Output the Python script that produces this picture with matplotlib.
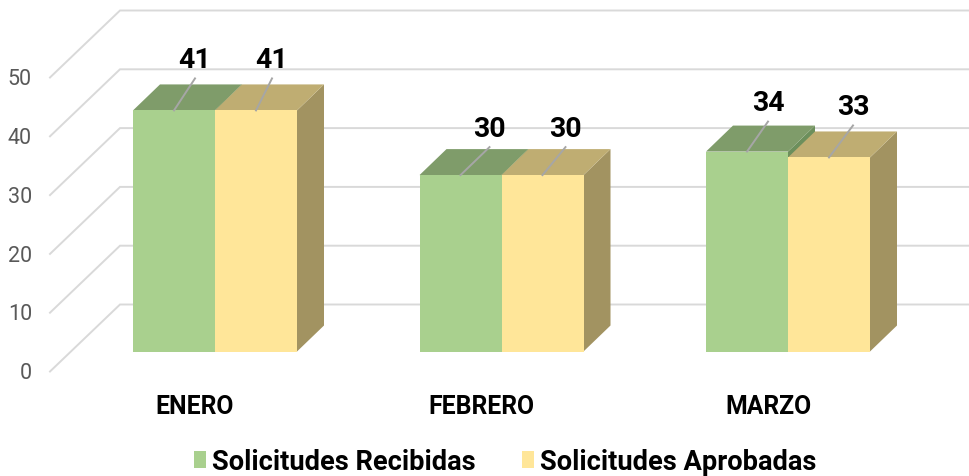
import matplotlib
matplotlib.use("Agg")
import matplotlib.pyplot as plt
from matplotlib.patches import Patch, Polygon

# Data
months = ["ENERO", "FEBRERO", "MARZO"]
recibidas = [41, 30, 34]
aprobadas = [41, 30, 33]
series_names = ["Solicitudes Recibidas", "Solicitudes Aprobadas"]
y_ticks = [0, 10, 20, 30, 40, 50]

# Layout, all measured in pixels on the 970x477 picture
W, H = 970, 477
x0_px, x_step_px = 215, 286.5     # shared edge of the first pair, spacing of pairs
y0_px, y_unit_px = 352.5, 5.88    # bar base, pixels per unit
bar_w = 82 / x_step_px
depth_x, depth_y = 27 / x_step_px, 26 / y_unit_px   # bar depth
wall_x, wall_y = 70 / x_step_px, 67 / y_unit_px     # floor depth
floor_y = -20 / y_unit_px         # front edge of the floor
grid_left = (50 - x0_px) / x_step_px
grid_right = (W - x0_px) / x_step_px

green = ("#A9D08E", "#7F9C6A", "#6C8F5C")
yellow = ("#FFE699", "#BFAD72", "#A29361")
grid_col = "#D9D9D9"

plt.rcParams["font.family"] = ["Roboto", "DejaVu Sans"]

fig = plt.figure(figsize=(W / 100, H / 100), dpi=100)
ax = fig.add_axes([0, 0, 1, 1])
ax.set_xlim(-x0_px / x_step_px, (W - x0_px) / x_step_px)
ax.set_ylim((y0_px - H) / y_unit_px, y0_px / y_unit_px)
ax.axis("off")


def draw_bar(x, val, cols, z):
    front = [(x, 0), (x + bar_w, 0), (x + bar_w, val), (x, val)]
    top = [(x, val), (x + bar_w, val), (x + bar_w + depth_x, val + depth_y), (x + depth_x, val + depth_y)]
    side = [(x + bar_w, 0), (x + bar_w + depth_x, depth_y),
            (x + bar_w + depth_x, val + depth_y), (x + bar_w, val)]
    ax.add_patch(Polygon(side, closed=True, fc=cols[2], ec="none", zorder=z))
    ax.add_patch(Polygon(top, closed=True, fc=cols[1], ec="none", zorder=z))
    ax.add_patch(Polygon(front, closed=True, fc=cols[0], ec="none", zorder=z))


# walls: diagonal on the side, horizontal on the back
for t in y_ticks:
    xs = [grid_left, grid_left + wall_x, grid_right]
    ys = [t + floor_y, t + floor_y + wall_y, t + floor_y + wall_y]
    ax.plot(xs, ys, color=grid_col, lw=1.4, zorder=1, solid_joinstyle="miter")
    ax.text((32 - x0_px) / x_step_px, t + floor_y - 0.2, str(t), color="#595959",
            fontsize=15.5, ha="right", va="center")

# leader end of each data label, pixels from the bar's top front centre
leader_r = [(21, 32), (29, 28), (21, 30)]
leader_a = [(16, 32), (23, 28), (24, 32)]

for i, m in enumerate(months):
    draw_bar(i - bar_w, recibidas[i], green, 2)
    draw_bar(i, aprobadas[i], yellow, 3)

    for val, xl, ld in ((recibidas[i], i - bar_w / 2, leader_r[i]),
                        (aprobadas[i], i + bar_w / 2, leader_a[i])):
        lx = xl + ld[0] / x_step_px
        ly = val + ld[1] / y_unit_px
        ax.plot([xl, lx], [val, ly], color="#A6A6A6", lw=1.4, zorder=5)
        ax.text(lx, ly + 3.2, str(val), color="black", fontsize=20.5, fontweight="bold",
                ha="center", va="center", zorder=6)

    ax.text(i - 20 / x_step_px, -9.3, m, color="black", fontsize=17.8, fontweight="bold",
            ha="center", va="center")

handles = [Patch(fc=green[0], ec="none"), Patch(fc=yellow[0], ec="none")]
leg = ax.legend(handles, series_names, loc="center", bbox_to_anchor=(0.521, 0.03), ncol=2,
                frameon=False, fontsize=19.6, handlelength=0.45, handleheight=0.58,
                handletextpad=0.22, columnspacing=1.7, borderpad=0)
for t in leg.get_texts():
    t.set_fontweight("bold")

fig.savefig("out.png", dpi=100)
